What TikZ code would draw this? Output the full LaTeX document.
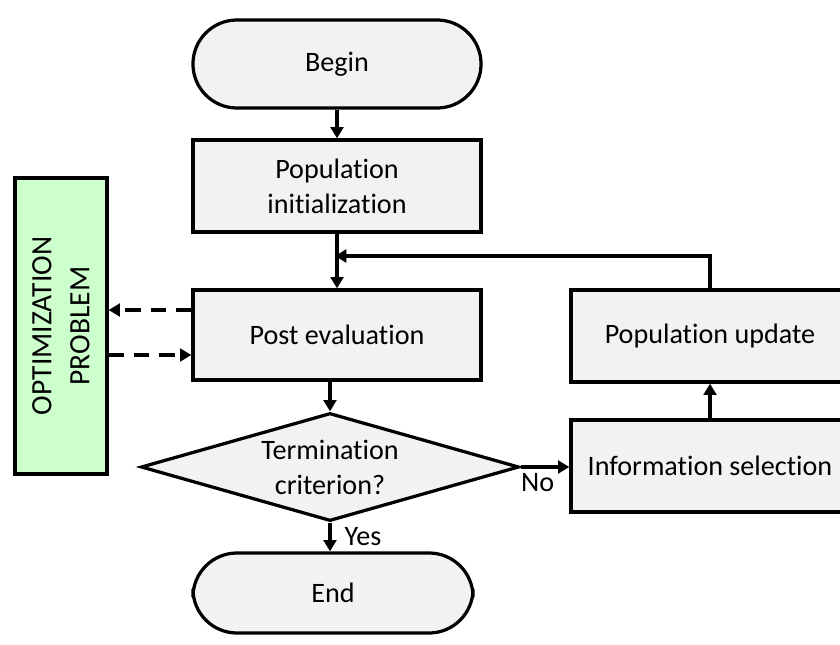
\documentclass[tikz,border=0pt]{standalone}
\usepackage{fontspec}
\setmainfont{Carlito}[Ligatures=NoCommon]
\usetikzlibrary{shapes.geometric,arrows.meta}

\definecolor{boxgray}{HTML}{F2F2F2}
\definecolor{probgreen}{HTML}{CCFFCC}

\tikzset{
	block/.style={draw=black, line width=2.3pt, fill=boxgray, align=center,
		minimum width=7.2cm, minimum height=2.3cm, inner sep=2pt},
	terminal/.style={block, rounded corners=1.1cm, minimum height=2.2cm},
	decision/.style={draw=black, line width=2.3pt, fill=boxgray, shape=diamond,
		aspect=3.5, inner sep=0pt, align=center, minimum width=9.45cm, minimum height=2.7cm},
	flow/.style={line width=2.3pt, -{Triangle[length=8pt,width=9pt]}},
	dashflow/.style={flow, dash pattern=on 11pt off 7pt}
}

\begin{document}
\begin{tikzpicture}[x=0.025cm, y=-0.025cm, font=\fontsize{20}{25}\selectfont]
	\useasboundingbox (0,0) rectangle (840,644);
	% main column
	\node[terminal] (begin) at (337,64) {Begin};
	\node[block] (init) at (337,186) {Population\\initialization};
	\node[block, minimum height=2.25cm] (post) at (337,335) {Post evaluation};
	\node[decision] (term) at (330,467) {Termination\\criterion?};
	\node[terminal, minimum width=7cm, minimum height=2cm] (end) at (333,593) {End};
	% right column
	\node[block, minimum width=6.95cm] (select) at (710,466) {Information selection};
	\node[block, minimum width=6.95cm] (update) at (710,336) {Population update};
	% problem box
	\node[draw=black, line width=2.3pt, fill=probgreen, minimum width=2.3cm, minimum height=7.4cm] (prob) at (61,326) {};
	\node[rotate=90, align=center, font=\fontsize{21}{27}\selectfont] (probtext) at (prob.center) {OPTIMIZATION\\PROBLEM};
	\coordinate (join) at (335,256);

	\draw[flow] (begin) -- (init);
	\draw[flow] (init) -- (post);
	\draw[flow] (post.south -| term.north) -- (term);
	\draw[flow] (term.south) -- (end.north -| term.south) node[midway, right=6pt] {Yes};
	\draw[flow] (term.east) -- (select.west |- term.east) node[pos=0.35, below] {No};
	\draw[flow] (select) -- (update);
	\draw[flow] (update.north) |- (join);
	% link to the problem
	\draw[dashflow] ([yshift=0.625cm]post.west) -- ([yshift=0.625cm]post.west -| prob.east);
	\draw[dashflow] ([yshift=-0.5cm]post.west -| prob.east) -- ([yshift=-0.5cm]post.west);
\end{tikzpicture}
\end{document}
